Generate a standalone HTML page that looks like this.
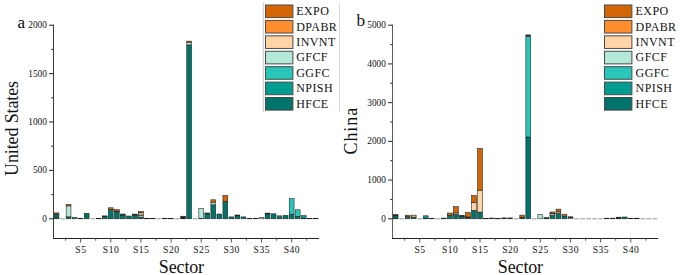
<!DOCTYPE html>
<html><head><meta charset="utf-8"><style>
html,body{margin:0;padding:0;background:#fff;}
body{width:685px;height:275px;overflow:hidden;}
svg{display:block;}
text{font-family:"Liberation Serif",serif;fill:#111;}
.tk{font-size:9.3px;}
.xl{font-size:9.6px;letter-spacing:0.5px;}
.lg{font-size:12px;letter-spacing:0.4px;}
.at{font-size:18px;}
.sx{font-size:18px;letter-spacing:-0.15px;}
.pl{font-size:17.2px;}
</style></head><body>
<svg width="685" height="275" viewBox="0 0 685 275">
<rect width="685" height="275" fill="#fff"/>
<rect x="54.1" y="217.8" width="4.8" height="1" fill="#02736A" stroke="#1c1c1c" stroke-width="0.55"/>
<rect x="54.1" y="214.1" width="4.8" height="3.7" fill="#02736A" stroke="#1c1c1c" stroke-width="0.55"/>
<rect x="54.1" y="212.9" width="4.8" height="1.2" fill="#D46506" stroke="#1c1c1c" stroke-width="0.55"/>
<line x1="60.13" y1="218.8" x2="64.93" y2="218.8" stroke="#8a8a8a" stroke-width="0.9"/>
<rect x="66.16" y="216.8" width="4.8" height="2" fill="#02736A" stroke="#1c1c1c" stroke-width="0.55"/>
<rect x="66.16" y="205.9" width="4.8" height="10.9" fill="#B4E8D9" stroke="#1c1c1c" stroke-width="0.55"/>
<rect x="66.16" y="204.4" width="4.8" height="1.5" fill="#D46506" stroke="#1c1c1c" stroke-width="0.55"/>
<rect x="72.19" y="217.5" width="4.8" height="1.3" fill="#039C90" stroke="#1c1c1c" stroke-width="0.55"/>
<rect x="78.22" y="218.3" width="4.8" height="0.5" fill="#262626" stroke="#1c1c1c" stroke-width="0.55"/>
<rect x="84.25" y="213.3" width="4.8" height="5.5" fill="#02736A" stroke="#1c1c1c" stroke-width="0.55"/>
<line x1="90.28" y1="218.8" x2="95.08" y2="218.8" stroke="#8a8a8a" stroke-width="0.9"/>
<rect x="96.31" y="218.3" width="4.8" height="0.5" fill="#262626" stroke="#1c1c1c" stroke-width="0.55"/>
<rect x="102.34" y="216.7" width="4.8" height="2.1" fill="#02736A" stroke="#1c1c1c" stroke-width="0.55"/>
<rect x="102.34" y="215.9" width="4.8" height="0.8" fill="#262626" stroke="#1c1c1c" stroke-width="0.55"/>
<rect x="108.37" y="209.6" width="4.8" height="9.2" fill="#02736A" stroke="#1c1c1c" stroke-width="0.55"/>
<rect x="108.37" y="207.8" width="4.8" height="1.8" fill="#D46506" stroke="#1c1c1c" stroke-width="0.55"/>
<rect x="114.4" y="211.8" width="4.8" height="7" fill="#02736A" stroke="#1c1c1c" stroke-width="0.55"/>
<rect x="114.4" y="211.4" width="4.8" height="0.4" fill="#B4E8D9" stroke="#1c1c1c" stroke-width="0.55"/>
<rect x="114.4" y="211.1" width="4.8" height="0.3" fill="#FD8D2D" stroke="#1c1c1c" stroke-width="0.55"/>
<rect x="114.4" y="209.7" width="4.8" height="1.4" fill="#D46506" stroke="#1c1c1c" stroke-width="0.55"/>
<rect x="120.43" y="215" width="4.8" height="3.8" fill="#02736A" stroke="#1c1c1c" stroke-width="0.55"/>
<rect x="120.43" y="214" width="4.8" height="1" fill="#5a5f5e" stroke="#1c1c1c" stroke-width="0.55"/>
<rect x="126.46" y="216" width="4.8" height="2.8" fill="#02736A" stroke="#1c1c1c" stroke-width="0.55"/>
<rect x="132.49" y="215" width="4.8" height="3.8" fill="#02736A" stroke="#1c1c1c" stroke-width="0.55"/>
<rect x="132.49" y="214.1" width="4.8" height="0.9" fill="#262626" stroke="#1c1c1c" stroke-width="0.55"/>
<rect x="138.52" y="217.1" width="4.8" height="1.7" fill="#02736A" stroke="#1c1c1c" stroke-width="0.55"/>
<rect x="138.52" y="215.2" width="4.8" height="1.9" fill="#B4E8D9" stroke="#1c1c1c" stroke-width="0.55"/>
<rect x="138.52" y="212.6" width="4.8" height="2.6" fill="#C9A886" stroke="#1c1c1c" stroke-width="0.55"/>
<rect x="138.52" y="211.5" width="4.8" height="1.1" fill="#D46506" stroke="#1c1c1c" stroke-width="0.55"/>
<rect x="144.55" y="218.3" width="4.8" height="0.5" fill="#262626" stroke="#1c1c1c" stroke-width="0.55"/>
<rect x="150.58" y="218.3" width="4.8" height="0.5" fill="#262626" stroke="#1c1c1c" stroke-width="0.55"/>
<line x1="156.61" y1="218.8" x2="161.41" y2="218.8" stroke="#8a8a8a" stroke-width="0.9"/>
<rect x="162.64" y="218.3" width="4.8" height="0.5" fill="#262626" stroke="#1c1c1c" stroke-width="0.55"/>
<rect x="168.67" y="218.3" width="4.8" height="0.5" fill="#262626" stroke="#1c1c1c" stroke-width="0.55"/>
<line x1="174.7" y1="218.8" x2="179.5" y2="218.8" stroke="#8a8a8a" stroke-width="0.9"/>
<rect x="180.73" y="218.2" width="4.8" height="0.6" fill="#02736A" stroke="#1c1c1c" stroke-width="0.55"/>
<rect x="180.73" y="216.2" width="4.8" height="2" fill="#262626" stroke="#1c1c1c" stroke-width="0.55"/>
<rect x="186.76" y="44.9" width="4.8" height="173.9" fill="#02736A" stroke="#1c1c1c" stroke-width="0.55"/>
<rect x="186.76" y="42.6" width="4.8" height="2.3" fill="#B4E8D9" stroke="#1c1c1c" stroke-width="0.55"/>
<rect x="186.76" y="41.1" width="4.8" height="1.5" fill="#D46506" stroke="#1c1c1c" stroke-width="0.55"/>
<line x1="192.79" y1="218.8" x2="197.59" y2="218.8" stroke="#8a8a8a" stroke-width="0.9"/>
<rect x="198.82" y="218.3" width="4.8" height="0.5" fill="#02736A" stroke="#1c1c1c" stroke-width="0.55"/>
<rect x="198.82" y="208.3" width="4.8" height="10" fill="#B4E8D9" stroke="#1c1c1c" stroke-width="0.55"/>
<rect x="204.85" y="213.8" width="4.8" height="5" fill="#02736A" stroke="#1c1c1c" stroke-width="0.55"/>
<rect x="204.85" y="213" width="4.8" height="0.8" fill="#262626" stroke="#1c1c1c" stroke-width="0.55"/>
<rect x="210.88" y="204.8" width="4.8" height="14" fill="#02736A" stroke="#1c1c1c" stroke-width="0.55"/>
<rect x="210.88" y="202.2" width="4.8" height="2.6" fill="#B4E8D9" stroke="#1c1c1c" stroke-width="0.55"/>
<rect x="210.88" y="199.8" width="4.8" height="2.4" fill="#D46506" stroke="#1c1c1c" stroke-width="0.55"/>
<rect x="216.91" y="214" width="4.8" height="4.8" fill="#02736A" stroke="#1c1c1c" stroke-width="0.55"/>
<rect x="222.94" y="201.4" width="4.8" height="17.4" fill="#02736A" stroke="#1c1c1c" stroke-width="0.55"/>
<rect x="222.94" y="195.4" width="4.8" height="6" fill="#D46506" stroke="#1c1c1c" stroke-width="0.55"/>
<rect x="228.97" y="216.9" width="4.8" height="1.9" fill="#02736A" stroke="#1c1c1c" stroke-width="0.55"/>
<rect x="235" y="215.8" width="4.8" height="3" fill="#02736A" stroke="#1c1c1c" stroke-width="0.55"/>
<rect x="235" y="215" width="4.8" height="0.8" fill="#262626" stroke="#1c1c1c" stroke-width="0.55"/>
<rect x="241.03" y="216.9" width="4.8" height="1.9" fill="#02736A" stroke="#1c1c1c" stroke-width="0.55"/>
<rect x="247.06" y="218.3" width="4.8" height="0.5" fill="#262626" stroke="#1c1c1c" stroke-width="0.55"/>
<rect x="253.09" y="218.3" width="4.8" height="0.5" fill="#262626" stroke="#1c1c1c" stroke-width="0.55"/>
<rect x="259.12" y="217.6" width="4.8" height="1.2" fill="#B4E8D9" stroke="#1c1c1c" stroke-width="0.55"/>
<rect x="265.15" y="213.9" width="4.8" height="4.9" fill="#02736A" stroke="#1c1c1c" stroke-width="0.55"/>
<rect x="265.15" y="213.1" width="4.8" height="0.8" fill="#262626" stroke="#1c1c1c" stroke-width="0.55"/>
<rect x="271.18" y="213.8" width="4.8" height="5" fill="#02736A" stroke="#1c1c1c" stroke-width="0.55"/>
<rect x="277.21" y="216.6" width="4.8" height="2.2" fill="#02736A" stroke="#1c1c1c" stroke-width="0.55"/>
<rect x="277.21" y="215.8" width="4.8" height="0.8" fill="#B4E8D9" stroke="#1c1c1c" stroke-width="0.55"/>
<rect x="283.24" y="215.4" width="4.8" height="3.4" fill="#02736A" stroke="#1c1c1c" stroke-width="0.55"/>
<rect x="289.27" y="214.2" width="4.8" height="4.6" fill="#02736A" stroke="#1c1c1c" stroke-width="0.55"/>
<rect x="289.27" y="198.7" width="4.8" height="15.5" fill="#27C6B8" stroke="#1c1c1c" stroke-width="0.55"/>
<rect x="295.3" y="216.3" width="4.8" height="2.5" fill="#02736A" stroke="#1c1c1c" stroke-width="0.55"/>
<rect x="295.3" y="209.8" width="4.8" height="6.5" fill="#27C6B8" stroke="#1c1c1c" stroke-width="0.55"/>
<rect x="301.33" y="218.3" width="4.8" height="0.5" fill="#02736A" stroke="#1c1c1c" stroke-width="0.55"/>
<rect x="301.33" y="215.7" width="4.8" height="2.6" fill="#039C90" stroke="#1c1c1c" stroke-width="0.55"/>
<rect x="307.36" y="218.3" width="4.8" height="0.5" fill="#262626" stroke="#1c1c1c" stroke-width="0.55"/>
<rect x="313.39" y="218.3" width="4.8" height="0.5" fill="#262626" stroke="#1c1c1c" stroke-width="0.55"/>
<line x1="53.5" y1="24.7" x2="53.5" y2="238.5" stroke="#3c3c3c" stroke-width="1"/>
<line x1="53" y1="238.5" x2="319.1" y2="238.5" stroke="#222" stroke-width="1"/>
<line x1="49.1" y1="218.8" x2="53.5" y2="218.8" stroke="#222" stroke-width="1"/>
<text x="46.9" y="221.8" text-anchor="end" class="tk">0</text>
<line x1="51.3" y1="194.6" x2="53.5" y2="194.6" stroke="#222" stroke-width="1"/>
<line x1="49.1" y1="170.4" x2="53.5" y2="170.4" stroke="#222" stroke-width="1"/>
<text x="46.9" y="173.4" text-anchor="end" class="tk">500</text>
<line x1="51.3" y1="146.2" x2="53.5" y2="146.2" stroke="#222" stroke-width="1"/>
<line x1="49.1" y1="122" x2="53.5" y2="122" stroke="#222" stroke-width="1"/>
<text x="46.9" y="125" text-anchor="end" class="tk">1000</text>
<line x1="51.3" y1="97.8" x2="53.5" y2="97.8" stroke="#222" stroke-width="1"/>
<line x1="49.1" y1="73.6" x2="53.5" y2="73.6" stroke="#222" stroke-width="1"/>
<text x="46.9" y="76.6" text-anchor="end" class="tk">1500</text>
<line x1="51.3" y1="49.4" x2="53.5" y2="49.4" stroke="#222" stroke-width="1"/>
<line x1="49.1" y1="25.2" x2="53.5" y2="25.2" stroke="#222" stroke-width="1"/>
<text x="46.9" y="28.2" text-anchor="end" class="tk">2000</text>
<line x1="65.55" y1="238.5" x2="65.55" y2="240.7" stroke="#555" stroke-width="1"/>
<line x1="80.62" y1="238.5" x2="80.62" y2="242.5" stroke="#555" stroke-width="1"/>
<text x="80.87" y="253" text-anchor="middle" class="tk xl">S5</text>
<line x1="95.69" y1="238.5" x2="95.69" y2="240.7" stroke="#555" stroke-width="1"/>
<line x1="110.77" y1="238.5" x2="110.77" y2="242.5" stroke="#555" stroke-width="1"/>
<text x="111.02" y="253" text-anchor="middle" class="tk xl">S10</text>
<line x1="125.84" y1="238.5" x2="125.84" y2="240.7" stroke="#555" stroke-width="1"/>
<line x1="140.92" y1="238.5" x2="140.92" y2="242.5" stroke="#555" stroke-width="1"/>
<text x="141.17" y="253" text-anchor="middle" class="tk xl">S15</text>
<line x1="156" y1="238.5" x2="156" y2="240.7" stroke="#555" stroke-width="1"/>
<line x1="171.07" y1="238.5" x2="171.07" y2="242.5" stroke="#555" stroke-width="1"/>
<text x="171.32" y="253" text-anchor="middle" class="tk xl">S20</text>
<line x1="186.15" y1="238.5" x2="186.15" y2="240.7" stroke="#555" stroke-width="1"/>
<line x1="201.22" y1="238.5" x2="201.22" y2="242.5" stroke="#555" stroke-width="1"/>
<text x="201.47" y="253" text-anchor="middle" class="tk xl">S25</text>
<line x1="216.3" y1="238.5" x2="216.3" y2="240.7" stroke="#555" stroke-width="1"/>
<line x1="231.37" y1="238.5" x2="231.37" y2="242.5" stroke="#555" stroke-width="1"/>
<text x="231.62" y="253" text-anchor="middle" class="tk xl">S30</text>
<line x1="246.45" y1="238.5" x2="246.45" y2="240.7" stroke="#555" stroke-width="1"/>
<line x1="261.52" y1="238.5" x2="261.52" y2="242.5" stroke="#555" stroke-width="1"/>
<text x="261.77" y="253" text-anchor="middle" class="tk xl">S35</text>
<line x1="276.6" y1="238.5" x2="276.6" y2="240.7" stroke="#555" stroke-width="1"/>
<line x1="291.67" y1="238.5" x2="291.67" y2="242.5" stroke="#555" stroke-width="1"/>
<text x="291.92" y="253" text-anchor="middle" class="tk xl">S40</text>
<line x1="306.75" y1="238.5" x2="306.75" y2="240.7" stroke="#555" stroke-width="1"/>
<text x="17.6" y="27.6" class="pl">a</text>
<text transform="translate(17.9 128.45) rotate(-90)" text-anchor="middle" class="at" letter-spacing="-0.12">United States</text>
<text x="181.4" y="272.9" text-anchor="middle" class="at sx">Sector</text>
<rect x="393.2" y="218" width="4.8" height="0.8" fill="#02736A" stroke="#1c1c1c" stroke-width="0.55"/>
<rect x="393.2" y="216" width="4.8" height="2" fill="#039C90" stroke="#1c1c1c" stroke-width="0.55"/>
<rect x="393.2" y="214.6" width="4.8" height="1.4" fill="#262626" stroke="#1c1c1c" stroke-width="0.55"/>
<line x1="399.23" y1="218.8" x2="404.03" y2="218.8" stroke="#8a8a8a" stroke-width="0.9"/>
<rect x="405.26" y="216.7" width="4.8" height="2.1" fill="#02736A" stroke="#1c1c1c" stroke-width="0.55"/>
<rect x="405.26" y="215.2" width="4.8" height="1.5" fill="#D46506" stroke="#1c1c1c" stroke-width="0.55"/>
<rect x="411.29" y="217.3" width="4.8" height="1.5" fill="#02736A" stroke="#1c1c1c" stroke-width="0.55"/>
<rect x="411.29" y="215.1" width="4.8" height="2.2" fill="#C9A886" stroke="#1c1c1c" stroke-width="0.55"/>
<line x1="417.32" y1="218.8" x2="422.12" y2="218.8" stroke="#8a8a8a" stroke-width="0.9"/>
<rect x="423.35" y="218.3" width="4.8" height="0.5" fill="#02736A" stroke="#1c1c1c" stroke-width="0.55"/>
<rect x="423.35" y="215.8" width="4.8" height="2.5" fill="#039C90" stroke="#1c1c1c" stroke-width="0.55"/>
<rect x="429.38" y="218.3" width="4.8" height="0.5" fill="#262626" stroke="#1c1c1c" stroke-width="0.55"/>
<line x1="435.41" y1="218.8" x2="440.21" y2="218.8" stroke="#8a8a8a" stroke-width="0.9"/>
<rect x="441.44" y="218.1" width="4.8" height="0.7" fill="#262626" stroke="#1c1c1c" stroke-width="0.55"/>
<rect x="447.47" y="215.2" width="4.8" height="3.6" fill="#02736A" stroke="#1c1c1c" stroke-width="0.55"/>
<rect x="447.47" y="213" width="4.8" height="2.2" fill="#D46506" stroke="#1c1c1c" stroke-width="0.55"/>
<rect x="453.5" y="214.2" width="4.8" height="4.6" fill="#02736A" stroke="#1c1c1c" stroke-width="0.55"/>
<rect x="453.5" y="212.9" width="4.8" height="1.3" fill="#FFD5A8" stroke="#1c1c1c" stroke-width="0.55"/>
<rect x="453.5" y="206.6" width="4.8" height="6.3" fill="#D46506" stroke="#1c1c1c" stroke-width="0.55"/>
<rect x="459.53" y="216.5" width="4.8" height="2.3" fill="#02736A" stroke="#1c1c1c" stroke-width="0.55"/>
<rect x="459.53" y="215.3" width="4.8" height="1.2" fill="#262626" stroke="#1c1c1c" stroke-width="0.55"/>
<rect x="465.56" y="217.6" width="4.8" height="1.2" fill="#02736A" stroke="#1c1c1c" stroke-width="0.55"/>
<rect x="465.56" y="216.9" width="4.8" height="0.7" fill="#262626" stroke="#1c1c1c" stroke-width="0.55"/>
<rect x="465.56" y="212.6" width="4.8" height="4.3" fill="#D46506" stroke="#1c1c1c" stroke-width="0.55"/>
<rect x="471.59" y="210.3" width="4.8" height="8.5" fill="#02736A" stroke="#1c1c1c" stroke-width="0.55"/>
<rect x="471.59" y="202.5" width="4.8" height="7.8" fill="#FFD5A8" stroke="#1c1c1c" stroke-width="0.55"/>
<rect x="471.59" y="195.4" width="4.8" height="7.1" fill="#D46506" stroke="#1c1c1c" stroke-width="0.55"/>
<rect x="477.62" y="212.1" width="4.8" height="6.7" fill="#02736A" stroke="#1c1c1c" stroke-width="0.55"/>
<rect x="477.62" y="190.2" width="4.8" height="21.9" fill="#FFD5A8" stroke="#1c1c1c" stroke-width="0.55"/>
<rect x="477.62" y="148.4" width="4.8" height="41.8" fill="#D46506" stroke="#1c1c1c" stroke-width="0.55"/>
<rect x="483.65" y="218.3" width="4.8" height="0.5" fill="#262626" stroke="#1c1c1c" stroke-width="0.55"/>
<rect x="489.68" y="218" width="4.8" height="0.8" fill="#D46506" stroke="#1c1c1c" stroke-width="0.55"/>
<rect x="495.71" y="218.3" width="4.8" height="0.5" fill="#262626" stroke="#1c1c1c" stroke-width="0.55"/>
<rect x="501.74" y="217.9" width="4.8" height="0.9" fill="#262626" stroke="#1c1c1c" stroke-width="0.55"/>
<rect x="507.77" y="217.9" width="4.8" height="0.9" fill="#262626" stroke="#1c1c1c" stroke-width="0.55"/>
<line x1="513.8" y1="218.8" x2="518.6" y2="218.8" stroke="#8a8a8a" stroke-width="0.9"/>
<rect x="519.83" y="217.8" width="4.8" height="1" fill="#02736A" stroke="#1c1c1c" stroke-width="0.55"/>
<rect x="519.83" y="217.4" width="4.8" height="0.4" fill="#FFD5A8" stroke="#1c1c1c" stroke-width="0.55"/>
<rect x="519.83" y="215.1" width="4.8" height="2.3" fill="#D46506" stroke="#1c1c1c" stroke-width="0.55"/>
<rect x="525.86" y="137" width="4.8" height="81.8" fill="#02736A" stroke="#1c1c1c" stroke-width="0.55"/>
<rect x="525.86" y="36.4" width="4.8" height="100.6" fill="#27C6B8" stroke="#1c1c1c" stroke-width="0.55"/>
<rect x="525.86" y="35.4" width="4.8" height="1" fill="#D46506" stroke="#1c1c1c" stroke-width="0.55"/>
<rect x="525.86" y="34.9" width="4.8" height="0.5" fill="#262626" stroke="#1c1c1c" stroke-width="0.55"/>
<line x1="531.89" y1="218.8" x2="536.69" y2="218.8" stroke="#8a8a8a" stroke-width="0.9"/>
<rect x="537.92" y="214.4" width="4.8" height="4.4" fill="#B4E8D9" stroke="#1c1c1c" stroke-width="0.55"/>
<rect x="543.95" y="217.6" width="4.8" height="1.2" fill="#262626" stroke="#1c1c1c" stroke-width="0.55"/>
<rect x="549.98" y="215.3" width="4.8" height="3.5" fill="#02736A" stroke="#1c1c1c" stroke-width="0.55"/>
<rect x="549.98" y="213.8" width="4.8" height="1.5" fill="#B4E8D9" stroke="#1c1c1c" stroke-width="0.55"/>
<rect x="549.98" y="213.3" width="4.8" height="0.5" fill="#FFD5A8" stroke="#1c1c1c" stroke-width="0.55"/>
<rect x="549.98" y="212" width="4.8" height="1.3" fill="#D46506" stroke="#1c1c1c" stroke-width="0.55"/>
<rect x="556.01" y="213.5" width="4.8" height="5.3" fill="#02736A" stroke="#1c1c1c" stroke-width="0.55"/>
<rect x="556.01" y="213" width="4.8" height="0.5" fill="#B4E8D9" stroke="#1c1c1c" stroke-width="0.55"/>
<rect x="556.01" y="211.3" width="4.8" height="1.7" fill="#FFD5A8" stroke="#1c1c1c" stroke-width="0.55"/>
<rect x="556.01" y="209.1" width="4.8" height="2.2" fill="#D46506" stroke="#1c1c1c" stroke-width="0.55"/>
<rect x="562.04" y="215.9" width="4.8" height="2.9" fill="#02736A" stroke="#1c1c1c" stroke-width="0.55"/>
<rect x="562.04" y="214.2" width="4.8" height="1.7" fill="#FD8D2D" stroke="#1c1c1c" stroke-width="0.55"/>
<rect x="568.07" y="217.6" width="4.8" height="1.2" fill="#B4E8D9" stroke="#1c1c1c" stroke-width="0.55"/>
<rect x="568.07" y="216.8" width="4.8" height="0.8" fill="#262626" stroke="#1c1c1c" stroke-width="0.55"/>
<line x1="574.1" y1="218.8" x2="578.9" y2="218.8" stroke="#8a8a8a" stroke-width="0.9"/>
<line x1="580.13" y1="218.8" x2="584.93" y2="218.8" stroke="#8a8a8a" stroke-width="0.9"/>
<line x1="586.16" y1="218.8" x2="590.96" y2="218.8" stroke="#8a8a8a" stroke-width="0.9"/>
<line x1="592.19" y1="218.8" x2="596.99" y2="218.8" stroke="#8a8a8a" stroke-width="0.9"/>
<line x1="598.22" y1="218.8" x2="603.02" y2="218.8" stroke="#8a8a8a" stroke-width="0.9"/>
<rect x="604.25" y="218.2" width="4.8" height="0.6" fill="#262626" stroke="#1c1c1c" stroke-width="0.55"/>
<rect x="610.28" y="218.2" width="4.8" height="0.6" fill="#262626" stroke="#1c1c1c" stroke-width="0.55"/>
<rect x="616.31" y="218" width="4.8" height="0.8" fill="#02736A" stroke="#1c1c1c" stroke-width="0.55"/>
<rect x="616.31" y="217.2" width="4.8" height="0.8" fill="#262626" stroke="#1c1c1c" stroke-width="0.55"/>
<rect x="622.34" y="217" width="4.8" height="1.8" fill="#02736A" stroke="#1c1c1c" stroke-width="0.55"/>
<rect x="628.37" y="218.2" width="4.8" height="0.6" fill="#262626" stroke="#1c1c1c" stroke-width="0.55"/>
<rect x="634.4" y="218.2" width="4.8" height="0.6" fill="#262626" stroke="#1c1c1c" stroke-width="0.55"/>
<line x1="640.43" y1="218.8" x2="645.23" y2="218.8" stroke="#8a8a8a" stroke-width="0.9"/>
<line x1="646.46" y1="218.8" x2="651.26" y2="218.8" stroke="#8a8a8a" stroke-width="0.9"/>
<line x1="652.49" y1="218.8" x2="657.29" y2="218.8" stroke="#8a8a8a" stroke-width="0.9"/>
<line x1="392.5" y1="24.7" x2="392.5" y2="238.5" stroke="#5e5e5e" stroke-width="1"/>
<line x1="392" y1="238.5" x2="658.1" y2="238.5" stroke="#222" stroke-width="1"/>
<line x1="388.1" y1="218.8" x2="392.5" y2="218.8" stroke="#222" stroke-width="1"/>
<text x="385.9" y="221.8" text-anchor="end" class="tk">0</text>
<line x1="390.3" y1="199.44" x2="392.5" y2="199.44" stroke="#222" stroke-width="1"/>
<line x1="388.1" y1="180.08" x2="392.5" y2="180.08" stroke="#222" stroke-width="1"/>
<text x="385.9" y="183.08" text-anchor="end" class="tk">1000</text>
<line x1="390.3" y1="160.72" x2="392.5" y2="160.72" stroke="#222" stroke-width="1"/>
<line x1="388.1" y1="141.36" x2="392.5" y2="141.36" stroke="#222" stroke-width="1"/>
<text x="385.9" y="144.36" text-anchor="end" class="tk">2000</text>
<line x1="390.3" y1="122" x2="392.5" y2="122" stroke="#222" stroke-width="1"/>
<line x1="388.1" y1="102.64" x2="392.5" y2="102.64" stroke="#222" stroke-width="1"/>
<text x="385.9" y="105.64" text-anchor="end" class="tk">3000</text>
<line x1="390.3" y1="83.28" x2="392.5" y2="83.28" stroke="#222" stroke-width="1"/>
<line x1="388.1" y1="63.92" x2="392.5" y2="63.92" stroke="#222" stroke-width="1"/>
<text x="385.9" y="66.92" text-anchor="end" class="tk">4000</text>
<line x1="390.3" y1="44.56" x2="392.5" y2="44.56" stroke="#222" stroke-width="1"/>
<line x1="388.1" y1="25.2" x2="392.5" y2="25.2" stroke="#222" stroke-width="1"/>
<text x="385.9" y="28.2" text-anchor="end" class="tk">5000</text>
<line x1="404.65" y1="238.5" x2="404.65" y2="240.7" stroke="#555" stroke-width="1"/>
<line x1="419.72" y1="238.5" x2="419.72" y2="242.5" stroke="#555" stroke-width="1"/>
<text x="419.97" y="253" text-anchor="middle" class="tk xl">S5</text>
<line x1="434.8" y1="238.5" x2="434.8" y2="240.7" stroke="#555" stroke-width="1"/>
<line x1="449.87" y1="238.5" x2="449.87" y2="242.5" stroke="#555" stroke-width="1"/>
<text x="450.12" y="253" text-anchor="middle" class="tk xl">S10</text>
<line x1="464.95" y1="238.5" x2="464.95" y2="240.7" stroke="#555" stroke-width="1"/>
<line x1="480.02" y1="238.5" x2="480.02" y2="242.5" stroke="#555" stroke-width="1"/>
<text x="480.27" y="253" text-anchor="middle" class="tk xl">S15</text>
<line x1="495.1" y1="238.5" x2="495.1" y2="240.7" stroke="#555" stroke-width="1"/>
<line x1="510.17" y1="238.5" x2="510.17" y2="242.5" stroke="#555" stroke-width="1"/>
<text x="510.42" y="253" text-anchor="middle" class="tk xl">S20</text>
<line x1="525.25" y1="238.5" x2="525.25" y2="240.7" stroke="#555" stroke-width="1"/>
<line x1="540.32" y1="238.5" x2="540.32" y2="242.5" stroke="#555" stroke-width="1"/>
<text x="540.57" y="253" text-anchor="middle" class="tk xl">S25</text>
<line x1="555.39" y1="238.5" x2="555.39" y2="240.7" stroke="#555" stroke-width="1"/>
<line x1="570.47" y1="238.5" x2="570.47" y2="242.5" stroke="#555" stroke-width="1"/>
<text x="570.72" y="253" text-anchor="middle" class="tk xl">S30</text>
<line x1="585.55" y1="238.5" x2="585.55" y2="240.7" stroke="#555" stroke-width="1"/>
<line x1="600.62" y1="238.5" x2="600.62" y2="242.5" stroke="#555" stroke-width="1"/>
<text x="600.87" y="253" text-anchor="middle" class="tk xl">S35</text>
<line x1="615.7" y1="238.5" x2="615.7" y2="240.7" stroke="#555" stroke-width="1"/>
<line x1="630.77" y1="238.5" x2="630.77" y2="242.5" stroke="#555" stroke-width="1"/>
<text x="631.02" y="253" text-anchor="middle" class="tk xl">S40</text>
<line x1="645.85" y1="238.5" x2="645.85" y2="240.7" stroke="#555" stroke-width="1"/>
<text x="356.4" y="25.8" class="pl">b</text>
<text transform="translate(356.6 130.7) rotate(-90)" text-anchor="middle" class="at" letter-spacing="0.95">China</text>
<text x="520.4" y="272.9" text-anchor="middle" class="at sx">Sector</text>
<rect x="265.5" y="5" width="27.4" height="12.6" fill="#D46506" stroke="#4a4a4a" stroke-width="1"/>
<text x="296.3" y="15.2" class="lg">EXPO</text>
<rect x="265.5" y="20.42" width="27.4" height="12.6" fill="#FD8D2D" stroke="#4a4a4a" stroke-width="1"/>
<text x="296.3" y="30.62" class="lg">DPABR</text>
<rect x="265.5" y="35.84" width="27.4" height="12.6" fill="#FFD5A8" stroke="#4a4a4a" stroke-width="1"/>
<text x="296.3" y="46.04" class="lg">INVNT</text>
<rect x="265.5" y="51.26" width="27.4" height="12.6" fill="#B4E8D9" stroke="#4a4a4a" stroke-width="1"/>
<text x="296.3" y="61.46" class="lg">GFCF</text>
<rect x="265.5" y="66.68" width="27.4" height="12.6" fill="#27C6B8" stroke="#4a4a4a" stroke-width="1"/>
<text x="296.3" y="76.88" class="lg">GGFC</text>
<rect x="265.5" y="82.1" width="27.4" height="12.6" fill="#039C90" stroke="#4a4a4a" stroke-width="1"/>
<text x="296.3" y="92.3" class="lg">NPISH</text>
<rect x="265.5" y="97.52" width="27.4" height="12.6" fill="#02736A" stroke="#4a4a4a" stroke-width="1"/>
<text x="296.3" y="107.72" class="lg">HFCE</text>
<rect x="604.5" y="5" width="27.4" height="12.6" fill="#D46506" stroke="#4a4a4a" stroke-width="1"/>
<text x="635.6" y="15.2" class="lg">EXPO</text>
<rect x="604.5" y="20.42" width="27.4" height="12.6" fill="#FD8D2D" stroke="#4a4a4a" stroke-width="1"/>
<text x="635.6" y="30.62" class="lg">DPABR</text>
<rect x="604.5" y="35.84" width="27.4" height="12.6" fill="#FFD5A8" stroke="#4a4a4a" stroke-width="1"/>
<text x="635.6" y="46.04" class="lg">INVNT</text>
<rect x="604.5" y="51.26" width="27.4" height="12.6" fill="#B4E8D9" stroke="#4a4a4a" stroke-width="1"/>
<text x="635.6" y="61.46" class="lg">GFCF</text>
<rect x="604.5" y="66.68" width="27.4" height="12.6" fill="#27C6B8" stroke="#4a4a4a" stroke-width="1"/>
<text x="635.6" y="76.88" class="lg">GGFC</text>
<rect x="604.5" y="82.1" width="27.4" height="12.6" fill="#039C90" stroke="#4a4a4a" stroke-width="1"/>
<text x="635.6" y="92.3" class="lg">NPISH</text>
<rect x="604.5" y="97.52" width="27.4" height="12.6" fill="#02736A" stroke="#4a4a4a" stroke-width="1"/>
<text x="635.6" y="107.72" class="lg">HFCE</text>
<line x1="263.3" y1="2.7" x2="263.3" y2="112" stroke="#c8c8c8" stroke-width="1"/>
<line x1="339.4" y1="2.7" x2="339.4" y2="112" stroke="#d4d4d4" stroke-width="1"/>
</svg>
</body></html>
